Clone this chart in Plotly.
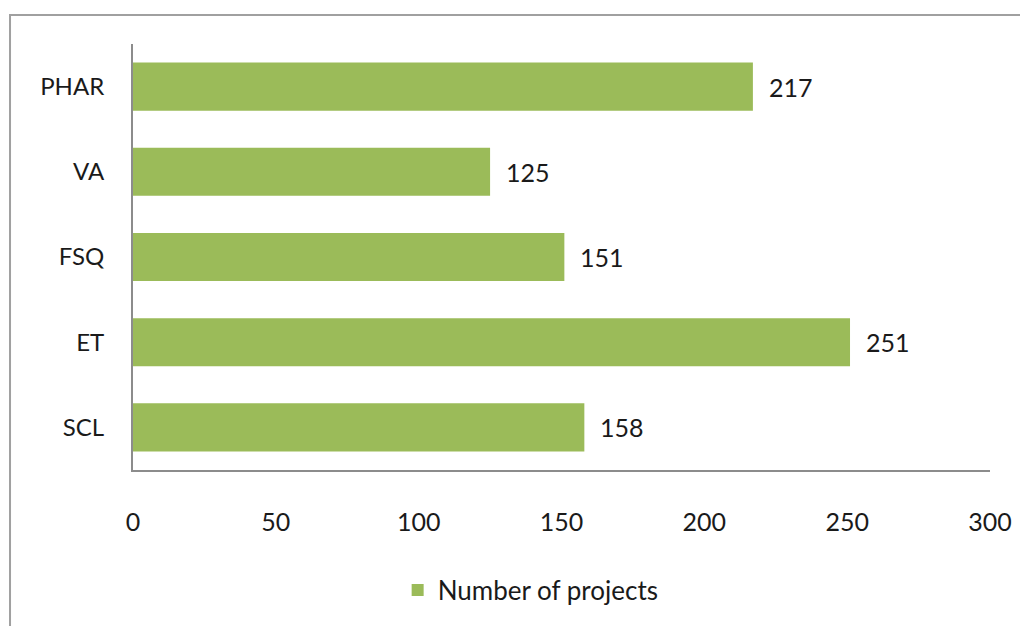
import plotly.graph_objects as go

categories = ["PHAR", "VA", "FSQ", "ET", "SCL"]
values = [217, 125, 151, 251, 158]
tick_vals = [0, 50, 100, 150, 200, 250, 300]
series_name = "Number of projects"

FONT = "Lato, Open Sans, sans-serif"
GREEN = "#9BBB59"
TXT = "#1a1a1a"

fig = go.Figure()
fig.add_trace(go.Bar(
    y=categories, x=values, orientation="h",
    marker=dict(color=GREEN, line=dict(width=0)),
    width=0.565, name=series_name, showlegend=True,
))

for c, v in zip(categories, values):
    fig.add_annotation(x=v, y=c, text=str(v), showarrow=False,
                       xanchor="left", xshift=14,
                       font=dict(family=FONT, size=25, color=TXT))

fig.add_shape(type="rect", xref="paper", yref="paper",
              x0=-0.1435, y0=-0.45, x1=1.2, y1=1.068,
              line=dict(color="#A0A0A0", width=2), fillcolor="rgba(0,0,0,0)",
              layer="below")

fig.update_layout(
    width=1028, height=626,
    margin=dict(l=125, r=46, t=36, b=164),
    paper_bgcolor="white", plot_bgcolor="white",
    font=dict(family=FONT, size=24, color=TXT),
    xaxis=dict(range=[0, 300], tickvals=tick_vals, showgrid=False, zeroline=False,
               showline=True, linecolor="#8C8C8C", linewidth=2,
               ticks="outside", ticklen=29, tickcolor="rgba(0,0,0,0)",
               tickfont=dict(size=25)),
    yaxis=dict(categoryorder="array", categoryarray=categories, autorange="reversed",
               showgrid=False, zeroline=False,
               showline=True, linecolor="#8C8C8C", linewidth=2,
               ticks="outside", ticklen=22, tickcolor="rgba(0,0,0,0)",
               tickfont=dict(size=24)),
    legend=dict(orientation="h", x=0.464, y=-0.282, xanchor="center", yanchor="middle",
                font=dict(size=26), itemwidth=30),
    bargap=0.435,
)

fig.write_html("out.html")
